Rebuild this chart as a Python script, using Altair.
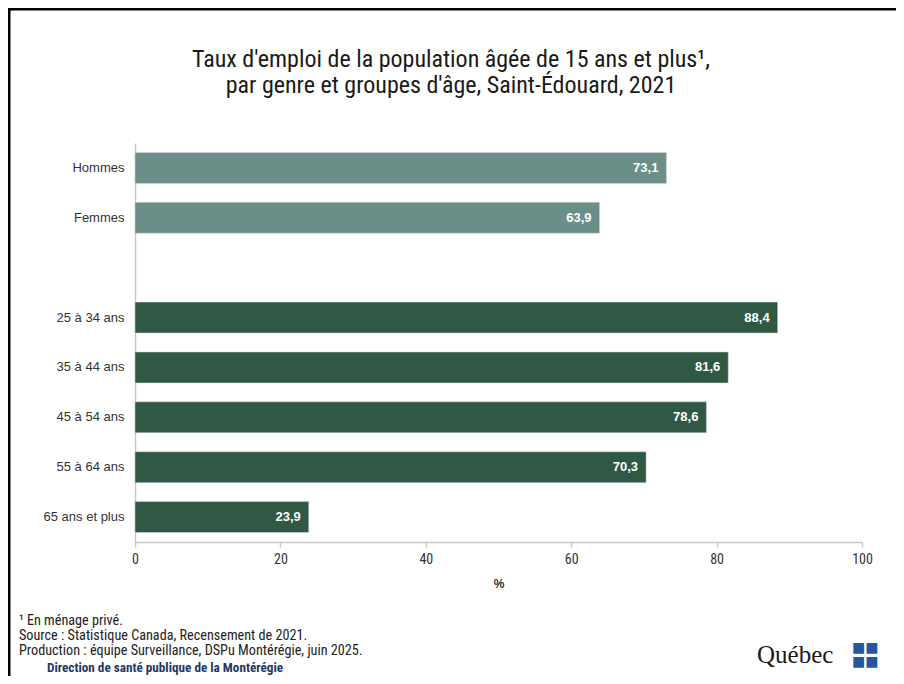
import altair as alt
import pandas as pd

categories = ["Hommes", "Femmes", " ", "25 à 34 ans", "35 à 44 ans", "45 à 54 ans", "55 à 64 ans", "65 ans et plus"]
bar_categories = ["Hommes", "Femmes", "25 à 34 ans", "35 à 44 ans", "45 à 54 ans", "55 à 64 ans", "65 ans et plus"]
values = [73.1, 63.9, 88.4, 81.6, 78.6, 70.3, 23.9]
groups = ["genre", "genre", "age", "age", "age", "age", "age"]
labels = ["73,1", "63,9", "88,4", "81,6", "78,6", "70,3", "23,9"]

title_lines = ["Taux d'emploi de la population âgée de 15 ans et plus¹,",
               "par genre et groupes d'âge, Saint-Édouard, 2021"]
notes = ["¹ En ménage privé.",
         "Source : Statistique Canada, Recensement de 2021.",
         "Production : équipe Surveillance, DSPu Montérégie, juin 2025."]
credit = "Direction de santé publique de la Montérégie"

df = pd.DataFrame({"cat": bar_categories, "val": values, "grp": groups, "lab": labels})

NARROW = "Liberation Sans Narrow, Arial Narrow, Roboto Condensed, Liberation Sans, sans-serif"
W, H = 727, 399

y_enc = alt.Y("cat:N", sort=categories,
              scale=alt.Scale(domain=categories, paddingInner=0.38, paddingOuter=0.19),
              axis=alt.Axis(title=None, ticks=False, domainColor="#c8c8c8", domainWidth=1.5,
                            labelFont="Liberation Sans", labelFontSize=13, labelColor="#333333",
                            labelPadding=11))
x_enc = alt.X("val:Q", scale=alt.Scale(domain=[0, 100]),
              axis=alt.Axis(title="%", values=[0, 20, 40, 60, 80, 100], grid=False, labelFlush=False,
                            domainColor="#c8c8c8", domainWidth=1.5, tickColor="#c8c8c8",
                            tickSize=5, tickWidth=1.5, labelFont=NARROW, labelFontSize=14,
                            labelColor="#333333", labelPadding=5,
                            titleFont="Liberation Sans", titleFontSize=12, titleFontWeight="bold",
                            titleColor="#333333", titlePadding=12))

bars = alt.Chart(df).mark_bar(stroke="#d9d9d9", strokeWidth=0.5).encode(
    x=x_enc, y=y_enc,
    color=alt.Color("grp:N", scale=alt.Scale(domain=["genre", "age"], range=["#6a8f88", "#2f5945"]), legend=None),
)
vals = alt.Chart(df).mark_text(align="right", baseline="middle", dx=-8, color="white",
                               font="Liberation Sans", fontSize=13, fontWeight="bold").encode(
    x="val:Q", y=alt.Y("cat:N", sort=categories), text="lab:N")

title1 = alt.Chart(pd.DataFrame({"t": [title_lines[0]]})).mark_text(
    font=NARROW, fontSize=24, color="#1a1a1a", baseline="middle").encode(
    x=alt.value(316), y=alt.value(-83), text="t:N")
title2 = alt.Chart(pd.DataFrame({"t": [title_lines[1]]})).mark_text(
    font=NARROW, fontSize=24, color="#1a1a1a", baseline="middle").encode(
    x=alt.value(316), y=alt.value(-57), text="t:N")

note_layers = []
for txt, yy in zip(notes, [478, 493, 508]):
    note_layers.append(alt.Chart(pd.DataFrame({"t": [txt]})).mark_text(
        font=NARROW, fontSize=14.2, color="#222222", align="left", baseline="middle").encode(
        x=alt.value(-116), y=alt.value(yy), text="t:N"))
note_layers.append(alt.Chart(pd.DataFrame({"t": [credit]})).mark_text(
    font=NARROW, fontSize=13.2, color="#1f3864", fontWeight="bold",
    align="left", baseline="middle").encode(
    x=alt.value(-88), y=alt.value(525), text="t:N"))

logo = alt.Chart(pd.DataFrame({"t": ["Québec"]})).mark_text(
    font="Liberation Serif, DejaVu Serif", fontSize=25, color="#1a1a1a", align="left",
    baseline="middle").encode(x=alt.value(622), y=alt.value(512), text="t:N")
flag = alt.Chart(pd.DataFrame({"t": ["■■|■■"]})).mark_text(
    font="DejaVu Sans", fontSize=14, color="#2456a4", align="left", baseline="middle",
    lineBreak="|", lineHeight=14).encode(
    x=alt.value(717), y=alt.value(505), text="t:N")

frame_df = pd.DataFrame({"k": [1]})
frame_top = alt.Chart(frame_df).mark_rect(color="black", strokeWidth=0).encode(
    x=alt.value(-127), x2=alt.value(761), y=alt.value(-135), y2=alt.value(-132.5))
frame_left = alt.Chart(frame_df).mark_rect(color="black", strokeWidth=0).encode(
    x=alt.value(-127), x2=alt.value(-124.5), y=alt.value(-135), y2=alt.value(533))

chart = alt.layer(bars, vals, title1, title2, *note_layers, logo, flag,
                  frame_top, frame_left).properties(
    width=W, height=H,
    background="white",
    autosize=alt.AutoSizeParams(type="none"),
    padding={"left": 127, "top": 135, "right": 34, "bottom": 134},
).configure_view(strokeWidth=0, stroke=None)

chart.save("out.html", embed_options={"renderer": "svg", "actions": False})
